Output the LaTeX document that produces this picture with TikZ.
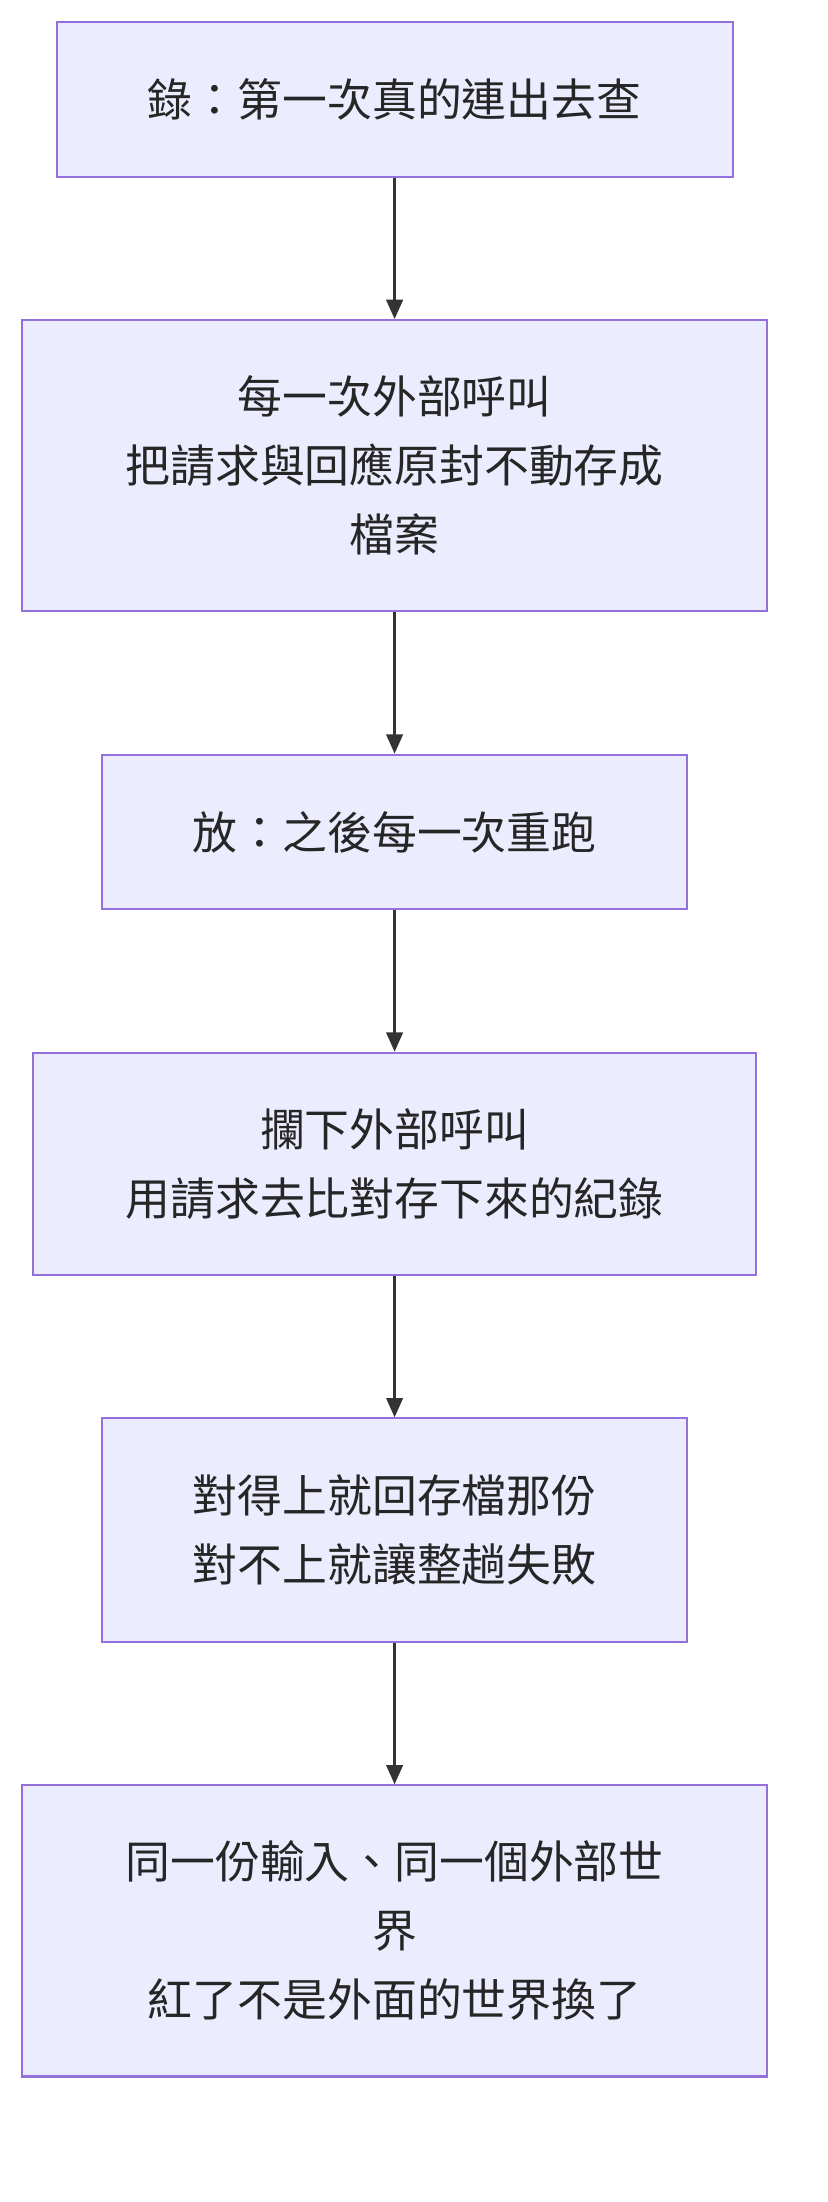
\documentclass[tikz,border=0pt]{standalone}
\usepackage{fontspec}
\setmainfont{Noto Sans CJK TC}
\usetikzlibrary{arrows.meta}
\definecolor{nfill}{HTML}{ECECFF}
\definecolor{nline}{HTML}{9370DB}
\definecolor{aline}{HTML}{333333}
\begin{document}
\begin{tikzpicture}[x=1pt,y=-1pt,
 box/.style={draw=nline,fill=nfill,line width=1.5pt,align=center,inner sep=0pt,
   font=\fontsize{32.5}{50}\selectfont,text=black!85},
 arr/.style={draw=aline,line width=1.8pt,-{Triangle[length=14pt,width=12pt]}}]
\useasboundingbox (0,0) rectangle (600,1596);
\node[box,minimum width=490pt,minimum height=112pt] (a) at (286,72) {錄：第一次真的連出去查};
\node[box,minimum width=540pt,minimum height=211pt] (b) at (286,337.5) {每一次外部呼叫\\把請求與回應原封不動存成\\檔案};
\node[box,minimum width=424pt,minimum height=112pt] (c) at (286,603) {放：之後每一次重跑};
\node[box,minimum width=524pt,minimum height=161pt] (d) at (286,843.5) {攔下外部呼叫\\用請求去比對存下來的紀錄};
\node[box,minimum width=424pt,minimum height=162pt] (e) at (286,1109) {對得上就回存檔那份\\對不上就讓整趟失敗};
\node[box,minimum width=540pt,minimum height=211pt] (f) at (286,1399.5) {同一份輸入、同一個外部世\\界\\紅了不是外面的世界換了};
\draw[arr] (a) -- (b);
\draw[arr] (b) -- (c);
\draw[arr] (c) -- (d);
\draw[arr] (d) -- (e);
\draw[arr] (e) -- (f);
\end{tikzpicture}
\end{document}
